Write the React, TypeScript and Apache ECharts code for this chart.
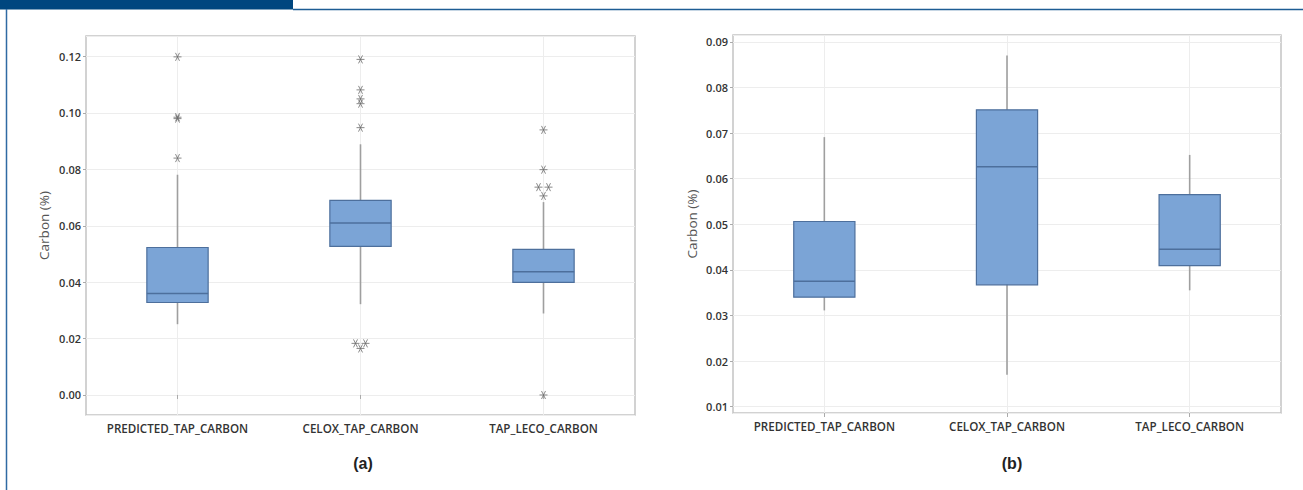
import React, { useEffect, useRef } from "react";
import * as echarts from "echarts";

const categories = ["PREDICTED_TAP_CARBON", "CELOX_TAP_CARBON", "TAP_LECO_CARBON"];

// [lowerWhisker, Q1, median, Q3, upperWhisker]
const boxA = [
  [0.0251, 0.0328, 0.036, 0.0523, 0.0781],
  [0.0322, 0.0527, 0.061, 0.069, 0.0889],
  [0.0289, 0.0399, 0.0437, 0.0516, 0.0684],
];
const boxB = [
  [0.0311, 0.034, 0.0375, 0.0506, 0.0691],
  [0.017, 0.0367, 0.0626, 0.0751, 0.087],
  [0.0355, 0.0409, 0.0445, 0.0565, 0.0652],
];

// outliers of panel (a): [category index, value, horizontal jitter step]
const outliersA: [number, number, number][] = [
  [0, 0.1199, 0],
  [0, 0.0985, 0],
  [0, 0.098, 0],
  [0, 0.084, 0],
  [1, 0.119, 0],
  [1, 0.1082, 0],
  [1, 0.105, 0],
  [1, 0.1033, 0],
  [1, 0.0948, 0],
  [1, 0.0183, -1],
  [1, 0.0183, 1],
  [1, 0.0165, 0],
  [2, 0.094, 0],
  [2, 0.0799, 0],
  [2, 0.0737, -1],
  [2, 0.0737, 1],
  [2, 0.0706, 0],
  [2, 0.0, 0],
];

const axisA = { min: -0.0071, max: 0.1273, step: 0.02, split: 7 };
const axisB = { min: 0.0086, max: 0.0915, step: 0.01, split: 8 };

const STAR = "path://M0,5L10,5M2.5,0.67L7.5,9.33M2.5,9.33L7.5,0.67";

const BOX_FILL = "#7ba4d6";
const BOX_EDGE = "#4d6f9c";
const WHISKER = "#9f9f9f";
const GRIDLINE = "#ededed";
const FRAME = "#c4c4c4";

function renderBox(params: any, api: any) {
  const x = api.value(0);
  const lo = api.coord([x, api.value(1)]);
  const q1 = api.coord([x, api.value(2)]);
  const md = api.coord([x, api.value(3)]);
  const q3 = api.coord([x, api.value(4)]);
  const hi = api.coord([x, api.value(5)]);
  const bw = api.size([1, 0])[0] * 0.335;
  const cx = q1[0];
  return {
    type: "group",
    children: [
      {
        type: "line",
        shape: { x1: cx, y1: lo[1], x2: cx, y2: hi[1] },
        style: { stroke: WHISKER, lineWidth: 1.6 },
      },
      {
        type: "rect",
        shape: { x: cx - bw / 2, y: q3[1], width: bw, height: q1[1] - q3[1] },
        style: { fill: BOX_FILL, stroke: BOX_EDGE, lineWidth: 1.2 },
      },
      {
        type: "line",
        shape: { x1: cx - bw / 2, y1: md[1], x2: cx + bw / 2, y2: md[1] },
        style: { stroke: BOX_EDGE, lineWidth: 1.4 },
      },
    ],
  };
}

const tickFont = {
  fontFamily: "Open Sans",
  fontWeight: 600 as any,
  fontSize: 11,
  color: "#333",
};

function makeYAxis(gridIndex: number, ax: { min: number; max: number; step: number; split: number }, nameGap: number) {
  return {
    type: "value",
    gridIndex,
    min: ax.min,
    max: ax.max,
    splitNumber: ax.split,
    name: "Carbon (%)",
    nameLocation: "middle",
    nameGap,
    nameTextStyle: { fontFamily: "Open Sans", fontSize: 13.5, color: "#555" },
    axisLine: { show: false },
    axisTick: { show: true, length: 3, lineStyle: { color: "#aaa" } },
    splitLine: { show: true, lineStyle: { color: GRIDLINE, width: 1 } },
    axisLabel: {
      ...tickFont,
      margin: 5,
      showMinLabel: false,
      showMaxLabel: false,
      formatter: (v: number) => {
        const r = v / ax.step;
        return Math.abs(r - Math.round(r)) < 1e-6 ? v.toFixed(2) : "";
      },
    },
  };
}

function makeXAxis(gridIndex: number) {
  return {
    type: "category",
    gridIndex,
    data: categories,
    boundaryGap: true,
    axisLine: { show: false },
    axisTick: { show: true, alignWithLabel: true, length: 4, lineStyle: { color: "#aaa" } },
    splitLine: { show: true, alignWithLabel: true, lineStyle: { color: GRIDLINE, width: 1 } },
    axisLabel: { ...tickFont, fontSize: 11.6, margin: 7, interval: 0, hideOverlap: false },
  };
}

export default function App() {
  const ref = useRef<HTMLDivElement>(null);
  useEffect(() => {
    if (!ref.current) return;
    const chart = echarts.init(ref.current, undefined, { renderer: "svg" });
    const boxData = (b: number[][]) => b.map((r, i) => [i, ...r]);
    const outData = outliersA.map(([c, v, j]) => ({
      value: [c, v],
      symbolOffset: [j * 5, 0],
    }));
    chart.setOption({
      animation: false,
      backgroundColor: "#ffffff",
      grid: [
        { left: 86, top: 36, width: 549, height: 379, show: true, borderColor: FRAME, borderWidth: 1.5, backgroundColor: "transparent" },
        { left: 733, top: 35, width: 548, height: 378, show: true, borderColor: FRAME, borderWidth: 1.5, backgroundColor: "transparent" },
      ],
      xAxis: [makeXAxis(0), makeXAxis(1)],
      yAxis: [makeYAxis(0, axisA, 35), makeYAxis(1, axisB, 34)],
      series: [
        {
          type: "custom",
          xAxisIndex: 0,
          yAxisIndex: 0,
          renderItem: renderBox,
          encode: { x: 0, y: [1, 2, 3, 4, 5] },
          data: boxData(boxA),
          z: 2,
        },
        {
          type: "scatter",
          xAxisIndex: 0,
          yAxisIndex: 0,
          symbol: STAR,
          symbolSize: 8,
          itemStyle: { color: "rgba(0,0,0,0)", borderColor: "#6c6c6c", borderWidth: 1 },
          data: outData,
          z: 3,
        },
        {
          type: "custom",
          xAxisIndex: 1,
          yAxisIndex: 1,
          renderItem: renderBox,
          encode: { x: 0, y: [1, 2, 3, 4, 5] },
          data: boxData(boxB),
          z: 2,
        },
      ],
      graphic: [
        { type: "rect", shape: { x: 0, y: 0, width: 293, height: 9.5 }, style: { fill: "#00467f" }, z: 10 },
        { type: "line", shape: { x1: 293, y1: 9.5, x2: 1303, y2: 9.5 }, style: { stroke: "#1d5c94", lineWidth: 1.5 }, z: 10 },
        { type: "line", shape: { x1: 6.5, y1: 9, x2: 6.5, y2: 490 }, style: { stroke: "#2f6aa3", lineWidth: 1.5 }, z: 10 },
        { type: "text", x: 363, y: 463, style: { text: "(a)", fill: "#222", font: "bold 16px 'Liberation Sans'", align: "center", verticalAlign: "middle" } },
        { type: "text", x: 1012, y: 463, style: { text: "(b)", fill: "#222", font: "bold 16px 'Liberation Sans'", align: "center", verticalAlign: "middle" } },
      ],
    });
    return () => chart.dispose();
  }, []);
  return (
    <div
      ref={ref}
      style={{ position: "absolute", left: 0, top: 0, width: 1303, height: 490 }}
    />
  );
}
